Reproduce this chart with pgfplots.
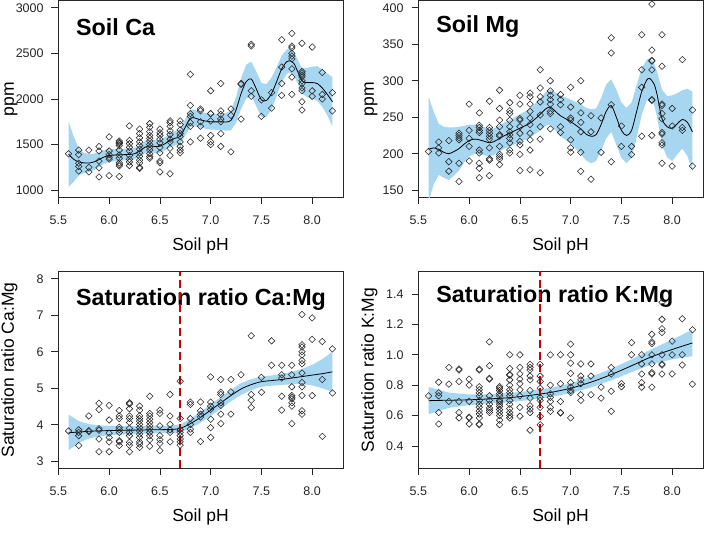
\documentclass[border=0pt]{standalone}
\usepackage{fontspec}
\setmainfont{Liberation Sans}
\usepackage{pgfplots}
\usepackage{pgfplotstable}
\pgfplotsset{compat=1.18}
\definecolor{bandblue}{RGB}{166,214,240}
\definecolor{refred}{RGB}{204,0,0}

\pgfplotstableread{
x f
5.60 1395
5.65 1340
5.70 1310
5.75 1300
5.80 1298
5.85 1310
5.90 1335
5.95 1365
6.00 1380
6.10 1388
6.20 1392
6.25 1400
6.30 1430
6.35 1470
6.40 1485
6.45 1480
6.50 1482
6.55 1510
6.60 1545
6.65 1570
6.70 1590
6.75 1690
6.80 1790
6.85 1790
6.90 1770
7.00 1750
7.10 1750
7.15 1748
7.20 1765
7.25 1880
7.30 2060
7.35 2190
7.40 2220
7.45 2110
7.50 1990
7.55 1985
7.60 2060
7.65 2190
7.70 2330
7.75 2410
7.78 2420
7.82 2390
7.85 2320
7.90 2200
7.95 2180
8.00 2180
8.05 2170
8.10 2120
8.15 2050
8.20 1970
}\cafit

\pgfplotstableread{
x f
5.60 206
5.65 208
5.70 206
5.75 202
5.80 200
5.85 203
5.90 207
5.95 213
6.00 218
6.05 220
6.10 219
6.15 217
6.20 215
6.25 217
6.30 221
6.35 225
6.40 228
6.50 235
6.60 242
6.70 254
6.75 261
6.80 264
6.85 258
6.90 252
7.00 244
7.10 234
7.15 227
7.20 224
7.25 226
7.30 240
7.35 258
7.40 266
7.45 250
7.50 232
7.55 225
7.60 232
7.65 258
7.70 285
7.75 301
7.78 303
7.82 296
7.85 282
7.90 248
7.95 237
8.00 235
8.05 241
8.10 247
8.15 243
8.20 230
}\mgfit

\pgfplotstableread{
x f
5.60 3.78
5.70 3.80
5.80 3.82
5.90 3.83
6.00 3.84
6.20 3.85
6.40 3.86
6.60 3.87
6.70 3.90
6.80 4.03
6.90 4.20
7.00 4.40
7.10 4.60
7.20 4.80
7.30 4.98
7.40 5.10
7.50 5.18
7.60 5.21
7.70 5.24
7.80 5.28
7.90 5.32
8.00 5.36
8.10 5.40
8.20 5.45
}\camgfit

\pgfplotstableread{
x f
5.60 0.698
5.70 0.700
5.80 0.701
6.00 0.704
6.20 0.710
6.40 0.718
6.60 0.733
6.80 0.752
7.00 0.780
7.20 0.820
7.40 0.870
7.60 0.928
7.80 0.988
8.00 1.035
8.20 1.078
}\kmgfit

\tikzset{ttl/.style={anchor=base west, inner sep=0pt, font=\fontsize{23.3}{23.3}\selectfont\bfseries}}

\pgfplotsset{
  panel/.style={
    scale only axis, width=285pt, height=197pt,
    xmin=5.496, xmax=8.304,
    xtick={5.5,6.0,6.5,7.0,7.5,8.0},
    xticklabels={5.5,6.0,6.5,7.0,7.5,8.0},
    axis line style={black!85, line width=0.8pt},
    tick style={black!85, line width=0.8pt},
    tick align=outside, major tick length=6.5pt,
    xtick pos=left, ytick pos=left,
    ticklabel style={font=\fontsize{12.5}{12.5}\selectfont, text=black!85},
    xticklabel style={anchor=base, inner sep=0pt, yshift=-20.5pt},
    yticklabel style={anchor=east, inner sep=0pt, xshift=-7.7pt},
    /pgf/number format/assume math mode=true,
    every axis x label/.style={at={(axis description cs:0.5,-0.2675)}, anchor=base,
      font=\fontsize{17.5}{17.5}\selectfont},
    every axis y label/.style={at={(axis description cs:-0.1544,0.5)}, rotate=90, anchor=base,
      font=\fontsize{17.5}{17.5}\selectfont},
    xlabel={Soil pH},
  },
  pts/.style={only marks, mark=square, mark size=2.3pt,
    mark options={rotate=45, draw=black!85, line width=0.55pt, fill=none}},
  fitline/.style={black, line width=0.8pt, smooth, no marks},
  band/.style={fill=bandblue, draw=none, no marks},
}

\begin{document}
\begin{tikzpicture}
\useasboundingbox (0,0) rectangle (720pt,543pt);

% ---------------- Panel 1: Soil Ca ----------------
\begin{axis}[panel, at={(58pt,345.5pt)}, anchor=south west,
  ymin=920, ymax=3080,
  ytick={1000,1500,2000,2500,3000}, yticklabels={1000,1500,2000,2500,3000},
  ylabel={ppm}]
\addplot[band] coordinates {
(5.60,1755)(5.65,1590)(5.70,1460)(5.75,1410)(5.80,1398)(5.85,1400)(5.90,1415)(5.95,1440)(6.00,1450)(6.10,1453)(6.20,1454)(6.25,1462)(6.30,1495)(6.35,1538)(6.40,1555)(6.45,1550)(6.50,1554)(6.55,1582)(6.60,1620)(6.65,1648)(6.70,1670)(6.75,1780)(6.80,1885)(6.85,1880)(6.90,1855)(7.00,1835)(7.10,1840)(7.15,1843)(7.20,1875)(7.25,2020)(7.30,2230)(7.35,2375)(7.40,2410)(7.45,2300)(7.50,2175)(7.55,2165)(7.60,2235)(7.65,2350)(7.70,2475)(7.75,2545)(7.78,2550)(7.82,2520)(7.85,2450)(7.90,2340)(7.95,2340)(8.00,2355)(8.05,2360)(8.10,2325)(8.15,2280)(8.20,2240)
(8.20,1700)(8.15,1820)(8.10,1915)(8.05,1980)(8.00,2005)(7.95,2020)(7.90,2060)(7.85,2190)(7.82,2260)(7.78,2290)(7.75,2275)(7.70,2185)(7.65,2030)(7.60,1885)(7.55,1805)(7.50,1805)(7.45,1920)(7.40,2030)(7.35,2005)(7.30,1890)(7.25,1740)(7.20,1655)(7.15,1653)(7.10,1660)(7.00,1665)(6.90,1685)(6.85,1700)(6.80,1695)(6.75,1600)(6.70,1510)(6.65,1492)(6.60,1470)(6.55,1438)(6.50,1410)(6.45,1410)(6.40,1415)(6.35,1402)(6.30,1365)(6.25,1338)(6.20,1330)(6.10,1323)(6.00,1310)(5.95,1290)(5.90,1255)(5.85,1220)(5.80,1198)(5.75,1190)(5.70,1160)(5.65,1090)(5.60,1035)
};
\addplot[pts] coordinates {
(5.6,1400)
(5.7,1440)(5.7,1390)(5.7,1295)(5.7,1260)(5.7,1210)
(5.8,1440)(5.8,1250)(5.8,1200)
(5.9,1480)(5.9,1430)(5.9,1320)(5.9,1245)(5.9,1145)
(6.0,1585)(6.0,1430)(6.0,1390)(6.0,1360)(6.0,1340)(6.0,1160)
(6.1,1540)(6.1,1525)(6.1,1510)(6.1,1490)(6.1,1440)(6.1,1385)(6.1,1350)(6.1,1300)(6.1,1280)(6.1,1265)(6.1,1150)
(6.2,1705)(6.2,1545)(6.2,1510)(6.2,1470)(6.2,1430)(6.2,1380)(6.2,1340)(6.2,1310)(6.2,1270)
(6.3,1670)(6.3,1620)(6.3,1575)(6.3,1530)(6.3,1490)(6.3,1450)(6.3,1410)(6.3,1370)(6.3,1330)(6.3,1300)(6.3,1250)(6.3,1240)
(6.4,1730)(6.4,1690)(6.4,1640)(6.4,1600)(6.4,1570)(6.4,1540)(6.4,1500)(6.4,1470)(6.4,1440)(6.4,1400)(6.4,1370)(6.4,1350)
(6.5,1670)(6.5,1630)(6.5,1600)(6.5,1560)(6.5,1520)(6.5,1470)(6.5,1410)(6.5,1320)(6.5,1300)(6.5,1200)
(6.6,1760)(6.6,1740)(6.6,1700)(6.6,1650)(6.6,1610)(6.6,1560)(6.6,1530)(6.6,1460)(6.6,1380)(6.6,1180)
(6.7,1760)(6.7,1720)(6.7,1660)(6.7,1620)(6.7,1590)(6.7,1530)(6.7,1480)(6.7,1440)(6.7,1410)
(6.8,2270)(6.8,1930)(6.8,1840)(6.8,1810)(6.8,1740)(6.8,1700)(6.8,1530)
(6.9,1890)(6.9,1870)(6.9,1750)(6.9,1700)(6.9,1570)
(7.0,2090)(7.0,1840)(7.0,1840)(7.0,1760)(7.0,1600)(7.0,1530)(7.0,1500)
(7.1,2170)(7.1,1870)(7.1,1830)(7.1,1780)(7.1,1750)(7.1,1620)(7.1,1480)
(7.2,1890)(7.2,1820)(7.2,1420)
(7.3,2170)(7.3,2160)(7.3,1780)
(7.4,2600)(7.4,2580)(7.4,2090)(7.4,2030)
(7.5,1990)(7.5,1810)
(7.6,2070)(7.6,1900)
(7.7,2650)(7.7,2350)(7.7,2170)(7.7,2040)
(7.8,2720)(7.8,2580)(7.8,2560)(7.8,2500)(7.8,2470)(7.8,2440)(7.8,2330)(7.8,2240)(7.8,2050)
(7.9,2610)(7.9,2300)(7.9,2280)(7.9,2260)(7.9,2240)(7.9,2200)(7.9,2170)(7.9,2120)(7.9,2090)(7.9,1970)(7.9,1880)
(8.0,2570)(8.0,2090)(8.0,2030)
(8.1,2290)(8.1,2050)(8.1,2000)
(8.2,2070)(8.2,1870)
};
\addplot[fitline] table[x=x, y=f] {\cafit};
\node[ttl] at (rel axis cs:0.063,0.822) {Soil Ca};
\end{axis}

% ---------------- Panel 2: Soil Mg ----------------
\begin{axis}[panel, at={(418pt,345.5pt)}, anchor=south west,
  ymin=140, ymax=410,
  ytick={150,200,250,300,350,400}, yticklabels={150,200,250,300,350,400},
  ylabel={ppm}]
\addplot[band] coordinates {
(5.60,278)(5.65,258)(5.70,241)(5.75,237)(5.80,236)(5.85,236)(5.90,237)(5.95,238)(6.00,240)(6.05,240)(6.10,239)(6.15,236)(6.20,234)(6.25,235)(6.30,239)(6.35,243)(6.40,246)(6.50,254)(6.60,262)(6.70,276)(6.75,284)(6.80,288)(6.85,284)(6.90,280)(7.00,274)(7.10,268)(7.15,263)(7.20,261)(7.25,262)(7.30,276)(7.35,295)(7.40,302)(7.45,288)(7.50,270)(7.55,263)(7.60,270)(7.65,294)(7.70,317)(7.75,329)(7.78,331)(7.82,324)(7.85,313)(7.90,288)(7.95,279)(8.00,280)(8.05,283)(8.10,287)(8.15,289)(8.20,285)
(8.20,175)(8.15,197)(8.10,207)(8.05,199)(8.00,190)(7.95,195)(7.90,212)(7.85,251)(7.82,268)(7.78,275)(7.75,273)(7.70,253)(7.65,222)(7.60,194)(7.55,187)(7.50,194)(7.45,212)(7.40,230)(7.35,221)(7.30,204)(7.25,190)(7.20,187)(7.15,191)(7.10,200)(7.00,214)(6.90,224)(6.85,232)(6.80,240)(6.75,238)(6.70,232)(6.60,222)(6.50,216)(6.40,210)(6.35,207)(6.30,203)(6.25,199)(6.20,196)(6.15,198)(6.10,199)(6.05,200)(6.00,196)(5.95,188)(5.90,177)(5.85,170)(5.80,164)(5.75,167)(5.70,171)(5.65,158)(5.60,134)
};
\addplot[pts] coordinates {
(5.6,203)
(5.7,216)(5.7,208)(5.7,201)
(5.8,218)(5.8,189)(5.8,176)
(5.9,228)(5.9,225)(5.9,222)(5.9,219)(5.9,187)(5.9,162)
(6.0,268)(6.0,232)(6.0,221)(6.0,210)(6.0,190)
(6.1,256)(6.1,239)(6.1,236)(6.1,232)(6.1,229)(6.1,205)(6.1,201)(6.1,187)(6.1,180)(6.1,167)
(6.2,272)(6.2,236)(6.2,232)(6.2,228)(6.2,224)(6.2,220)(6.2,208)(6.2,193)(6.2,191)(6.2,170)
(6.3,287)(6.3,262)(6.3,246)(6.3,237)(6.3,226)(6.3,224)(6.3,210)(6.3,199)(6.3,196)(6.3,193)(6.3,185)
(6.4,270)(6.4,259)(6.4,255)(6.4,246)(6.4,237)(6.4,230)(6.4,226)(6.4,221)(6.4,215)(6.4,205)(6.4,201)
(6.5,280)(6.5,268)(6.5,248)(6.5,246)(6.5,237)(6.5,228)(6.5,217)(6.5,212)(6.5,199)(6.5,177)
(6.6,283)(6.6,278)(6.6,268)(6.6,258)(6.6,249)(6.6,240)(6.6,228)(6.6,219)(6.6,205)(6.6,178)
(6.7,315)(6.7,290)(6.7,278)(6.7,271)(6.7,253)(6.7,237)(6.7,220)(6.7,174)
(6.8,300)(6.8,286)(6.8,280)(6.8,274)(6.8,268)(6.8,258)(6.8,255)(6.8,234)
(6.9,281)(6.9,274)(6.9,267)(6.9,237)(6.9,229)
(7.0,291)(7.0,264)(7.0,249)(7.0,246)(7.0,219)(7.0,208)(7.0,202)
(7.1,300)(7.1,272)(7.1,256)(7.1,243)(7.1,230)(7.1,202)(7.1,176)
(7.2,252)(7.2,230)(7.2,165)
(7.3,249)(7.3,202)
(7.4,359)(7.4,338)(7.4,267)(7.4,189)
(7.5,238)(7.5,210)
(7.6,210)(7.6,199)
(7.7,363)(7.7,315)(7.7,291)(7.7,224)
(7.8,405)(7.8,342)(7.8,328)(7.8,327)(7.8,315)(7.8,274)(7.8,273)(7.8,225)
(7.9,363)(7.9,320)(7.9,268)(7.9,266)(7.9,255)(7.9,248)(7.9,229)(7.9,227)(7.9,215)(7.9,212)(7.9,187)
(8.0,262)(8.0,238)(8.0,183)
(8.1,329)(8.1,236)(8.1,232)
(8.2,260)(8.2,183)
};
\addplot[fitline] table[x=x, y=f] {\mgfit};
\node[ttl] at (rel axis cs:0.064,0.838) {Soil Mg};
\end{axis}

% ---------------- Panel 3: Ca:Mg ----------------
\begin{axis}[panel, at={(58pt,74.5pt)}, anchor=south west,
  ymin=2.8, ymax=8.2,
  ytick={3,4,5,6,7,8}, yticklabels={3,4,5,6,7,8},
  ylabel={Saturation ratio Ca:Mg}]
\addplot[band] coordinates {
(5.60,4.28)(5.70,4.10)(5.80,4.02)(5.90,3.98)(6.00,3.97)(6.20,3.96)(6.40,3.96)(6.60,3.97)(6.70,4.01)(6.80,4.16)(6.90,4.35)(7.00,4.56)(7.10,4.76)(7.20,4.96)(7.30,5.14)(7.40,5.25)(7.50,5.32)(7.60,5.35)(7.70,5.39)(7.80,5.45)(7.90,5.53)(8.00,5.64)(8.10,5.80)(8.20,6.00)
(8.20,4.90)(8.10,5.00)(8.00,5.08)(7.90,5.11)(7.80,5.11)(7.70,5.09)(7.60,5.07)(7.50,5.04)(7.40,4.95)(7.30,4.82)(7.20,4.64)(7.10,4.44)(7.00,4.24)(6.90,4.05)(6.80,3.90)(6.70,3.79)(6.60,3.77)(6.40,3.76)(6.20,3.74)(6.00,3.71)(5.90,3.68)(5.80,3.62)(5.70,3.50)(5.60,3.30)
};
\addplot[pts] coordinates {
(5.6,3.83)
(5.7,3.86)(5.7,3.79)(5.7,3.70)(5.7,3.43)
(5.8,4.24)(5.8,3.84)(5.8,3.81)
(5.9,4.59)(5.9,4.42)(5.9,3.89)(5.9,3.85)(5.9,3.61)(5.9,3.26)
(6.0,4.53)(6.0,4.13)(6.0,3.77)(6.0,3.65)(6.0,3.53)(6.0,3.26)
(6.1,4.39)(6.1,4.24)(6.1,4.17)(6.1,3.93)(6.1,3.87)(6.1,3.79)(6.1,3.56)(6.1,3.53)(6.1,3.43)
(6.2,4.60)(6.2,4.57)(6.2,4.44)(6.2,4.24)(6.2,4.17)(6.2,4.06)(6.2,3.90)(6.2,3.79)(6.2,3.70)(6.2,3.52)(6.2,3.44)(6.2,3.26)
(6.3,4.51)(6.3,4.40)(6.3,4.24)(6.3,4.17)(6.3,4.10)(6.3,4.01)(6.3,3.92)(6.3,3.83)(6.3,3.74)(6.3,3.65)(6.3,3.53)(6.3,3.47)(6.3,3.38)
(6.4,4.78)(6.4,4.31)(6.4,4.24)(6.4,4.15)(6.4,4.06)(6.4,3.97)(6.4,3.88)(6.4,3.79)(6.4,3.70)(6.4,3.59)(6.4,3.41)
(6.5,4.40)(6.5,4.31)(6.5,3.97)(6.5,3.70)(6.5,3.59)(6.5,3.49)(6.5,3.29)
(6.6,4.83)(6.6,4.24)(6.6,4.01)(6.6,3.86)(6.6,3.79)(6.6,3.53)
(6.7,5.19)(6.7,4.17)(6.7,3.86)(6.7,3.79)(6.7,3.70)(6.7,3.61)(6.7,3.53)(6.7,3.44)
(6.8,4.62)(6.8,4.56)(6.8,4.17)(6.8,4.01)(6.8,3.88)(6.8,3.79)
(6.9,4.62)(6.9,4.38)(6.9,4.29)(6.9,4.21)(6.9,3.54)
(7.0,5.31)(7.0,4.62)(7.0,4.51)(7.0,4.42)(7.0,4.15)(7.0,3.92)(7.0,3.65)
(7.1,5.24)(7.1,4.89)(7.1,4.83)(7.1,4.60)(7.1,4.53)(7.1,4.29)(7.1,4.03)
(7.2,5.24)(7.2,4.90)(7.2,4.29)
(7.3,5.37)
(7.4,6.44)(7.4,4.83)(7.4,4.67)(7.4,4.47)
(7.5,5.30)(7.5,4.89)
(7.6,6.30)(7.6,5.63)
(7.7,5.63)(7.7,5.37)(7.7,5.28)(7.7,4.78)(7.7,4.40)
(7.8,5.63)(7.8,5.37)(7.8,5.04)(7.8,4.80)(7.8,4.75)(7.8,4.71)(7.8,4.60)(7.8,4.51)(7.8,4.03)
(7.9,7.02)(7.9,6.19)(7.9,6.13)(7.9,6.00)(7.9,5.91)(7.9,5.76)(7.9,5.67)(7.9,5.42)(7.9,5.16)(7.9,5.04)(7.9,4.80)(7.9,4.38)(7.9,4.29)
(8.0,6.93)(8.0,6.34)(8.0,4.80)
(8.1,6.28)(8.1,5.24)(8.1,3.68)
(8.2,6.08)(8.2,4.87)
};
\addplot[fitline] table[x=x, y=f] {\camgfit};
\node[ttl] at (rel axis cs:0.063,0.828) {Saturation ratio Ca:Mg};
\addplot[refred, line width=2pt, dash pattern=on 8pt off 4pt] coordinates {(6.7,2.8) (6.7,8.2)};
\end{axis}

% ---------------- Panel 4: K:Mg ----------------
\begin{axis}[panel, at={(418pt,74.5pt)}, anchor=south west,
  ymin=0.252, ymax=1.548,
  ytick={0.4,0.6,0.8,1.0,1.2,1.4}, yticklabels={0.4,0.6,0.8,1.0,1.2,1.4},
  ylabel={Saturation ratio K:Mg}]
\addplot[band] coordinates {
(5.60,0.788)(5.70,0.770)(5.80,0.751)(6.00,0.739)(6.20,0.740)(6.40,0.748)(6.60,0.763)(6.80,0.782)(7.00,0.812)(7.20,0.855)(7.40,0.908)(7.60,0.970)(7.80,1.038)(8.00,1.100)(8.20,1.165)
(8.20,0.991)(8.00,0.970)(7.80,0.938)(7.60,0.886)(7.40,0.832)(7.20,0.785)(7.00,0.748)(6.80,0.722)(6.60,0.703)(6.40,0.688)(6.20,0.680)(6.00,0.669)(5.80,0.651)(5.70,0.630)(5.60,0.608)
};
\addplot[pts] coordinates {
(5.6,0.73)
(5.7,0.82)(5.7,0.75)(5.7,0.73)(5.7,0.62)(5.7,0.545)
(5.8,0.917)(5.8,0.807)(5.8,0.693)
(5.9,0.906)(5.9,0.90)(5.9,0.824)(5.9,0.693)(5.9,0.62)(5.9,0.585)
(6.0,0.84)(6.0,0.80)(6.0,0.693)(6.0,0.59)(6.0,0.585)(6.0,0.545)
(6.1,0.906)(6.1,0.90)(6.1,0.79)(6.1,0.77)(6.1,0.75)(6.1,0.73)(6.1,0.70)(6.1,0.675)(6.1,0.655)(6.1,0.63)(6.1,0.61)(6.1,0.585)(6.1,0.545)(6.1,0.54)
(6.2,1.085)(6.2,0.928)(6.2,0.845)(6.2,0.84)(6.2,0.73)(6.2,0.70)(6.2,0.675)(6.2,0.65)(6.2,0.635)(6.2,0.62)
(6.3,0.79)(6.3,0.78)(6.3,0.765)(6.3,0.745)(6.3,0.73)(6.3,0.70)(6.3,0.69)(6.3,0.675)(6.3,0.66)(6.3,0.64)(6.3,0.62)(6.3,0.60)(6.3,0.57)(6.3,0.54)
(6.4,1.0)(6.4,0.91)(6.4,0.87)(6.4,0.865)(6.4,0.835)(6.4,0.80)(6.4,0.77)(6.4,0.75)(6.4,0.73)(6.4,0.70)(6.4,0.675)(6.4,0.645)(6.4,0.62)(6.4,0.60)(6.4,0.585)
(6.5,1.0)(6.5,0.917)(6.5,0.874)(6.5,0.84)(6.5,0.81)(6.5,0.77)(6.5,0.73)(6.5,0.654)(6.5,0.596)
(6.6,0.937)(6.6,0.917)(6.6,0.9)(6.6,0.86)(6.6,0.835)(6.6,0.765)(6.6,0.715)(6.6,0.665)(6.6,0.643)(6.6,0.62)(6.6,0.504)
(6.7,0.937)(6.7,0.86)(6.7,0.824)(6.7,0.78)(6.7,0.72)(6.7,0.70)(6.7,0.654)(6.7,0.596)(6.7,0.54)
(6.8,1.0)(6.8,0.80)(6.8,0.743)(6.8,0.72)(6.8,0.693)(6.8,0.654)(6.8,0.628)
(6.9,1.0)(6.9,0.81)(6.9,0.693)(6.9,0.62)(6.9,0.617)
(7.0,1.07)(7.0,1.0)(7.0,0.945)(7.0,0.878)(7.0,0.817)(7.0,0.787)(7.0,0.765)(7.0,0.752)(7.0,0.585)
(7.1,0.94)(7.1,0.86)(7.1,0.835)(7.1,0.81)(7.1,0.737)(7.1,0.70)
(7.2,0.94)(7.2,0.86)(7.2,0.737)
(7.3,0.787)(7.3,0.715)
(7.4,0.917)(7.4,0.874)(7.4,0.76)(7.4,0.628)
(7.5,0.81)(7.5,0.79)
(7.6,1.08)(7.6,1.0)
(7.7,1.0)(7.7,0.94)(7.7,0.874)(7.7,0.817)(7.7,0.787)
(7.8,1.135)(7.8,1.085)(7.8,1.074)(7.8,1.0)(7.8,0.94)(7.8,0.883)(7.8,0.874)(7.8,0.787)
(7.9,1.346)(7.9,1.233)(7.9,1.172)(7.9,1.146)(7.9,1.0)(7.9,0.94)(7.9,0.933)(7.9,0.874)
(8.0,1.09)(8.0,1.0)(8.0,0.874)
(8.1,1.237)(8.1,1.0)(8.1,0.933)
(8.2,1.165)(8.2,0.807)
};
\addplot[fitline] table[x=x, y=f] {\kmgfit};
\node[ttl] at (rel axis cs:0.064,0.844) {Saturation ratio K:Mg};
\addplot[refred, line width=2pt, dash pattern=on 8pt off 4pt] coordinates {(6.7,0.252) (6.7,1.548)};
\end{axis}
\end{tikzpicture}
\end{document}
